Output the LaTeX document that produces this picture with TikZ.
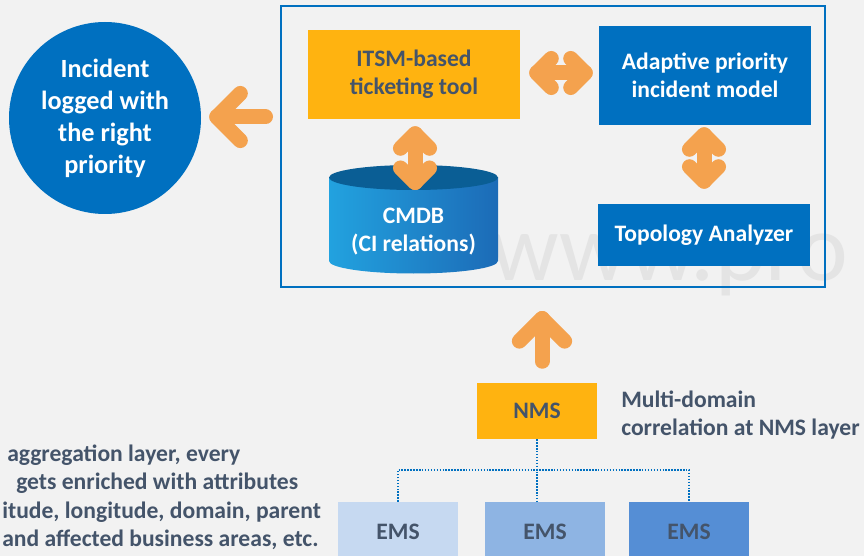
\documentclass[tikz,border=0pt]{standalone}
\usepackage{fontspec}
\setmainfont{Carlito}
\usetikzlibrary{calc}
\definecolor{bg}{HTML}{F2F2F2}
\definecolor{blueA}{HTML}{0070C0}
\definecolor{amber}{HTML}{FFB310}
\definecolor{arrowc}{HTML}{F4A24E}
\definecolor{dtext}{HTML}{44546A}
\definecolor{emsA}{HTML}{C6D9F1}
\definecolor{emsB}{HTML}{8EB4E3}
\definecolor{emsC}{HTML}{558ED5}
\definecolor{cylL}{HTML}{22A2DF}
\definecolor{cylR}{HTML}{1C6BB7}
\definecolor{cylT}{HTML}{0A5E95}
\definecolor{wmark}{HTML}{E4E4E4}
\newcommand\arrowhead[3]{%
  \draw[fat] ($(#1)!#3!45:(#2)$) -- (#1) -- ($(#1)!#3!-45:(#2)$);}
\begin{document}
\begin{tikzpicture}[x=0.75pt,y=-0.75pt,
  lbl/.style={font=\fontsize{17.7}{21}\selectfont\bfseries, align=center, inner sep=0pt},
  txt/.style={font=\fontsize{17.7}{21}\selectfont\bfseries, inner sep=0pt, text=dtext},
  fat/.style={draw=arrowc, line width=11.25pt, line cap=round, line join=round},
  dots/.style={draw=blueA, line width=1.2pt, dash pattern=on 1.1pt off 1.1pt},
]
\clip (0,0) rectangle (864,556);
\fill[bg] (0,0) rectangle (864,556);
% watermark
\node[anchor=base west, text=wmark, font=\fontsize{72}{72}\selectfont, inner sep=0pt] (wm) at (490,280) {www.pro};
% frame
\node[draw=blueA, line width=1.5pt, minimum width=408pt, minimum height=210.75pt, inner sep=0pt] (frame) at (553,146.5) {};
% boxes
\node[lbl, fill=amber, text=dtext, minimum width=159pt, minimum height=66.75pt] (itsm) at (414,74.5) {ITSM-based\\ticketing tool};
\node[lbl, fill=blueA, text=white, minimum width=159pt, minimum height=74.25pt] (apim) at (705,75.5) {Adaptive priority\\incident model};
\node[lbl, fill=blueA, text=white, minimum width=159pt, minimum height=46.5pt] (topo) at (704,235) {Topology Analyzer};
\node[circle, fill=blueA, text=white, minimum size=144pt, inner sep=0pt, align=center,
  font=\fontsize{19.7}{24}\selectfont\bfseries] (inc) at (105,118) {Incident\\logged with\\the right\\priority};
% cylinder
\shade[left color=cylL, right color=cylR] (329,177.5) -- (329,261)
  arc[start angle=180, end angle=360, x radius=63.375pt, y radius=9.375pt] -- (498,177.5) -- cycle;
\fill[cylT] (413.5,177.5) ellipse[x radius=63.375pt, y radius=9.375pt];
\coordinate (cmdbtop) at (413.5,165);
\node[lbl, text=white] (cmdb) at (413.5,232) {CMDB\\(CI relations)};
% NMS and EMS
\node[lbl, fill=amber, text=dtext, minimum width=90pt, minimum height=42pt] (nms) at (537,411) {NMS};
\node[lbl, fill=emsA, text=dtext, minimum width=90pt, minimum height=45pt] (ems1) at (398,532) {EMS};
\node[lbl, fill=emsB, text=dtext, minimum width=90pt, minimum height=45pt] (ems2) at (545,532) {EMS};
\node[lbl, fill=emsC, text=dtext, minimum width=90pt, minimum height=45pt] (ems3) at (689,532) {EMS};
\coordinate (bus) at (537,470);
\draw[dots] (nms.south) -- (nms.south |- ems2.north);
\draw[dots] (ems1.north) -- (ems1.north |- bus) -- (ems3.north |- bus) -- (ems3.north);
% texts
\node[txt, anchor=base west] (md1) at (621,407) {Multi-domain};
\node[txt, anchor=base west] (md2) at (621,435) {correlation at NMS layer};
\node[txt, anchor=base west] (bl1) at (7,461) {aggregation layer, every};
\node[txt, anchor=base west] (bl2) at (16,489.5) {gets enriched with attributes};
\node[txt, anchor=base west] (bl3) at (2,518) {itude, longitude, domain, parent};
\node[txt, anchor=base west] (bl4) at (2,546.5) {and affected business areas, etc.};
% arrows
\coordinate (la1) at ($(inc.east)+(15.5,-1)$);
\coordinate (la2) at ($(frame.west |- la1)+(-14.5,0)$);
\draw[fat] (la2) -- (la1);
\arrowhead{la1}{la2}{25pt}
\coordinate (h1) at ($(itsm.east)+(16.5,-1.5)$);
\coordinate (h2) at ($(apim.west)+(-13.5,-2.5)$);
\draw[fat] (h1) -- (h2);
\arrowhead{h1}{h2}{15.4pt}
\arrowhead{h2}{h1}{15.4pt}
\coordinate (v1) at ($(itsm.south)+(1,14.5)$);
\coordinate (v2) at ($(cmdbtop)+(1.5,17.5)$);
\draw[fat] (v1) -- (v2);
\arrowhead{v1}{v2}{15.4pt}
\arrowhead{v2}{v1}{15.4pt}
\coordinate (w1) at ($(apim.south)+(-1,9.5)$);
\coordinate (w2) at ($(topo.north)+(0,-22.5)$);
\draw[fat] (w1) -- (w2);
\arrowhead{w1}{w2}{15.4pt}
\arrowhead{w2}{w1}{15.4pt}
\coordinate (u1) at ($(frame.south)+(-11,30.5)$);
\coordinate (u2) at ($(nms.north)+(5,-21.5)$);
\draw[fat] (u2) -- (u1);
\arrowhead{u1}{u2}{24pt}
\end{tikzpicture}
\end{document}
